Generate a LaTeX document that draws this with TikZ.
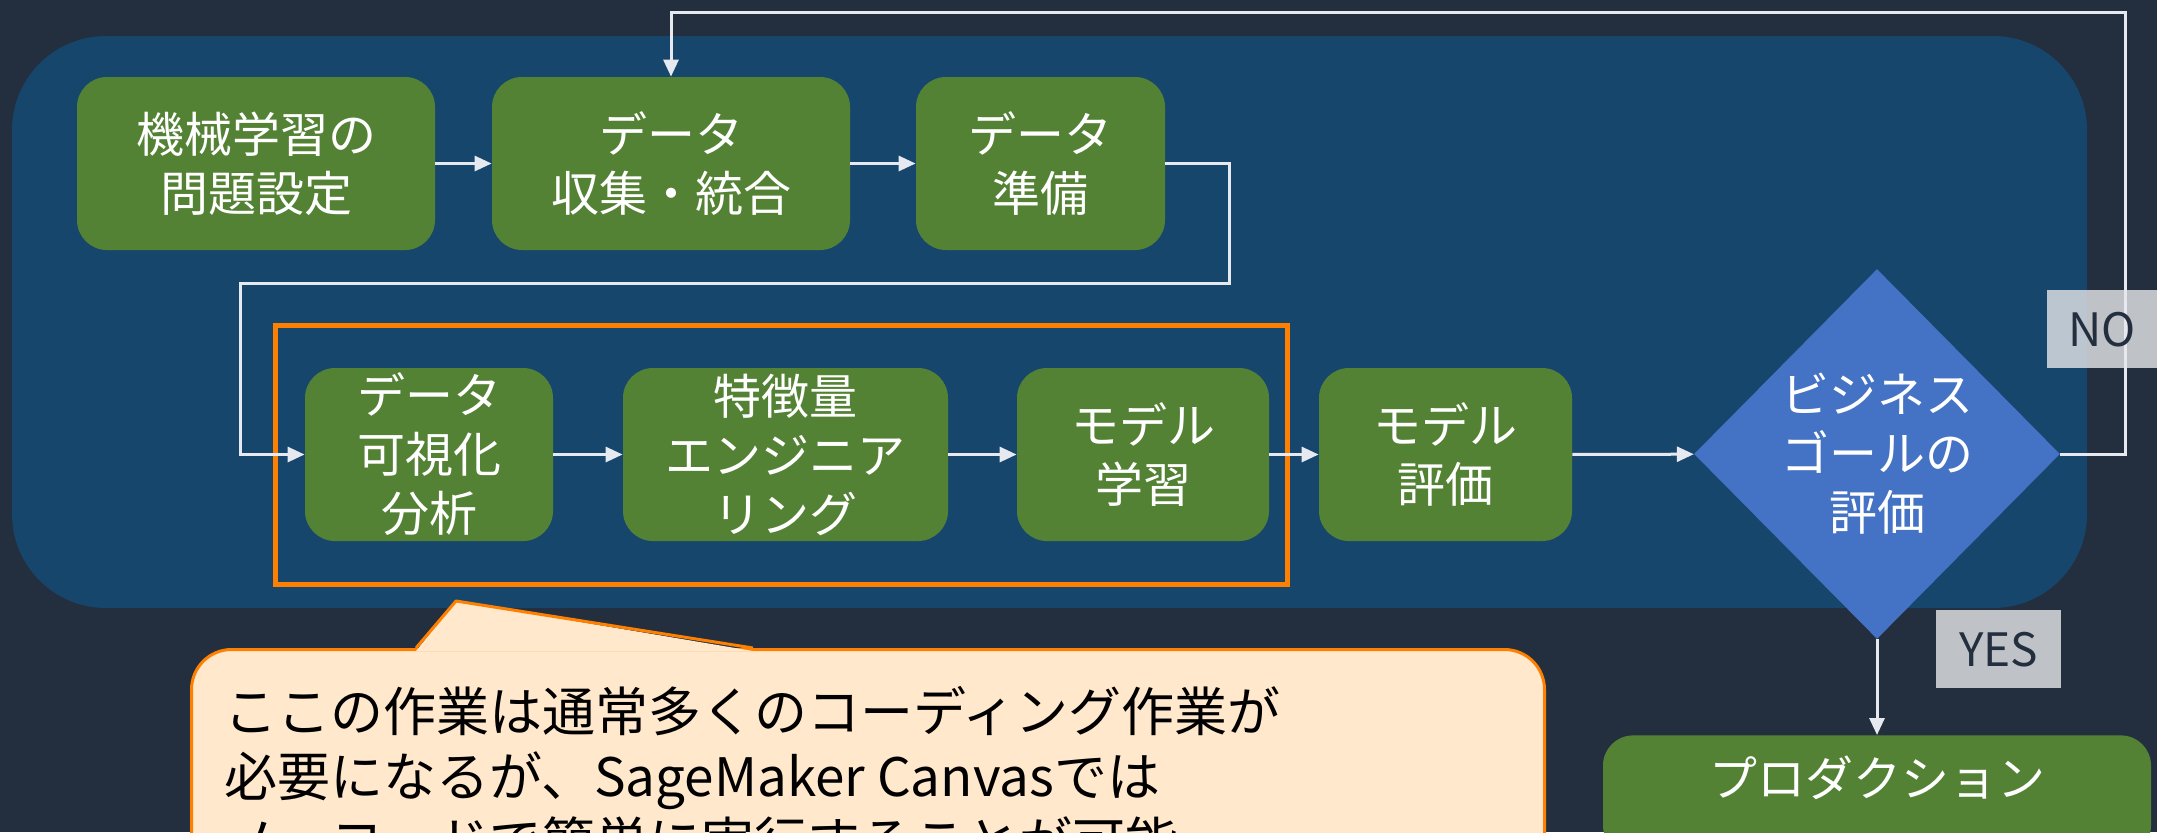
\documentclass[tikz,border=0pt]{standalone}
\usepackage{fontspec}
\setmainfont{Noto Sans CJK JP}
\usetikzlibrary{shapes.geometric,arrows.meta}
\definecolor{bgc}{HTML}{232F3E}
\definecolor{panelc}{HTML}{17466D}
\definecolor{greenc}{HTML}{548235}
\definecolor{diac}{HTML}{4472C4}
\definecolor{orangec}{HTML}{FF8000}
\definecolor{calloutc}{HTML}{FFE8CC}
\definecolor{arrowc}{HTML}{E6EAF0}
\definecolor{tagc}{HTML}{E6E7EA}
\begin{document}
\begin{tikzpicture}[x=0.5pt,y=-0.5pt,
  gbox/.style={fill=greenc, rounded corners=15pt, text=white, align=center,
    font=\fontsize{24}{29.5}\selectfont, minimum height=86.5pt, inner sep=0pt},
  arr/.style={draw=arrowc, line width=1.5pt, -{Triangle[length=8.5pt,width=7.5pt]}},
  tag/.style={fill=tagc, fill opacity=0.8, text opacity=1, text=bgc,
    font=\fontsize{23}{27}\selectfont, inner sep=0pt},
  tagtext/.style={text=bgc, font=\fontsize{23}{27}\selectfont, inner sep=0pt},
  cline/.style={anchor=base west, inner sep=0pt, text=black,
    font=\fontsize{26.5}{32.5}\selectfont}]
\useasboundingbox (0,0) rectangle (2157,832);
\clip (0,0) rectangle (2157,832);
\fill[bgc] (0,0) rectangle (2157,832);
\fill[panelc, rounded corners=47pt] (12,36) rectangle (2087,608);

% focus frame
\node[draw=orangec, line width=2.5pt, minimum width=506pt, minimum height=129.5pt, inner sep=0pt] (focus) at (781,454.5) {};

% row 1
\node[gbox, minimum width=179pt] (prob) at (256,163.5) {機械学習の\\問題設定};
\node[gbox, minimum width=179pt] (collect) at (671,163.5) {データ\\収集・統合};
\node[gbox, minimum width=124.5pt] (prep) at (1040.5,163.5) {データ\\準備};

% row 2
\node[gbox, minimum width=124pt] (viz) at (429,454.5) {データ\\可視化\\分析};
\node[gbox, minimum width=162.5pt] (feat) at (785.5,454.5) {特徴量\\エンジニア\\リング};
\node[gbox, minimum width=126pt] (train) at (1143,454.5) {モデル\\学習};
\node[gbox, minimum width=126.5pt] (evalm) at (1445.5,454.5) {モデル\\評価};

% decision
\node[diamond, fill=diac, text=white, align=center, inner sep=0pt, aspect=1,
  minimum width=183pt, minimum height=185pt,
  font=\fontsize{24}{29.5}\selectfont] (goal) at (1877,454) {ビジネス\\ゴールの\\評価};

% production
\node[fill=greenc, rounded corners=15pt, minimum width=274pt, minimum height=60pt, inner sep=0pt, anchor=north] (prod) at (1877,735) {};
\node[text=white, font=\fontsize{24}{29.5}\selectfont, inner sep=0pt] (prodtxt) at (1877,778) {プロダクション};

% arrows
\draw[arr] (prob) -- (collect);
\draw[arr] (collect) -- (prep);
\draw[arr] (prep.east) -| (1229,283) -| (240,454.5) -- (viz.west);
\draw[arr] (viz) -- (feat);
\draw[arr] (feat) -- (train);
\draw[arr] (train) -- (evalm);
\draw[arr] (evalm) -- (goal);
\draw[arr] (goal.east) -| (2125,12) -| (collect.north);
\draw[arr] (goal.south) -- (prod.north);

% tags
\node[tag, minimum width=55pt, minimum height=39pt, anchor=north west] (nobox) at (2047,290) {};
\draw[draw=arrowc, line width=1.5pt] (2125,300) -- (2125,360);
\node[tagtext] (notext) at (nobox.center) {NO};
\node[tag, minimum width=62.5pt, minimum height=39pt, anchor=north west] (yesbox) at (1936,610) {YES};

% callout
\node[draw=orangec, fill=calloutc, line width=1.5pt, rounded corners=20pt,
  minimum width=676.5pt, minimum height=130pt, inner sep=0pt, anchor=north west] (callout) at (190,648) {};
\fill[calloutc] (416,651) -- (456,601) -- (753,651) -- cycle;
\draw[orangec, line width=1.5pt, line join=round] (416,648) -- (456,601) -- (753,648);
\node[cline] (cl1) at (224,731) {ここの作業は通常多くのコーディング作業が};
\node[cline] (cl2) at (224,796) {必要になるが、SageMaker Canvasでは};
\node[cline] (cl3) at (224,861) {ノーコードで簡単に実行することが可能};
\end{tikzpicture}
\end{document}
